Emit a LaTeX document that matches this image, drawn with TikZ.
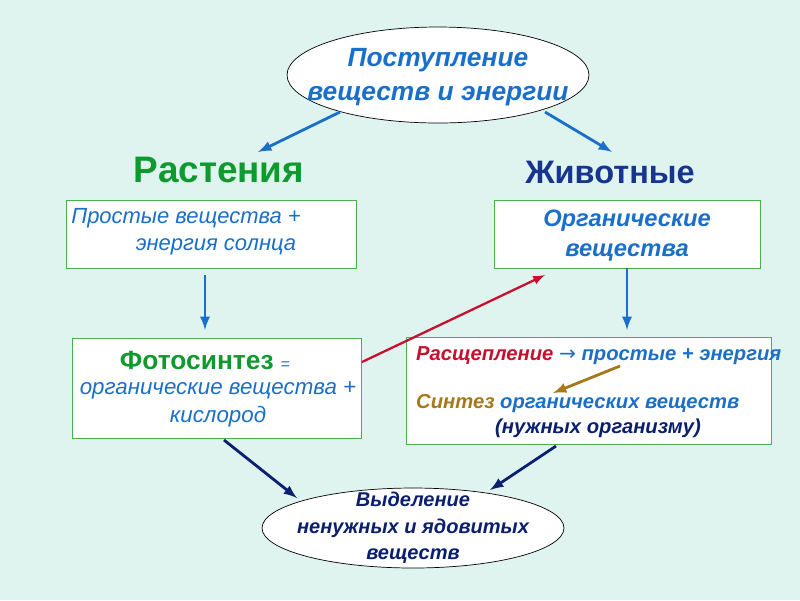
\documentclass[tikz,border=0pt]{standalone}
\usepackage{fontspec}
\setmainfont{Liberation Sans}
\newfontfamily\symfont{DejaVu Sans}
\usetikzlibrary{shapes.geometric}
\definecolor{bgmint}{HTML}{DFF4EE}
\definecolor{txtblue}{HTML}{1A6FC9}
\definecolor{plgreen}{HTML}{0E9A2E}
\definecolor{navy}{HTML}{0A1F6E}
\definecolor{animblue}{HTML}{17358F}
\definecolor{brownish}{HTML}{A6781A}
\definecolor{redish}{HTML}{C8102E}
\definecolor{boxgreen}{HTML}{4CAF50}

\tikzset{
  oval/.style={ellipse,draw=black,fill=white,inner sep=0pt},
  panel/.style={rectangle,draw=boxgreen,fill=white,inner sep=0pt},
  arr/.style={line width=1.6pt,-latex},
  lbl/.style={font=\bfseries\itshape,align=center}
}

\begin{document}
\begin{tikzpicture}[x=0.02cm,y=-0.02cm]
  \fill[bgmint] (0,0) rectangle (800,600);
  \useasboundingbox (0,0) rectangle (800,600);

  \node (In) at (438,75) [oval,minimum width=6.04cm,minimum height=1.92cm] {};
  \node (InT) at (438,77) [lbl,text=txtblue,font=\fontsize{15}{19}\selectfont\bfseries\itshape] {Поступление\\веществ и энергии};

  \node (P) at (219,170) [text=plgreen,font=\fontsize{21}{25}\selectfont\bfseries] {Растения};
  \node (A) at (610,172) [text=animblue,font=\fontsize{18.5}{22}\selectfont\bfseries] {Животные};

  \node (B1) at (211,234) [panel,minimum width=5.8cm,minimum height=1.36cm] {};
  \node (B2) at (627,234) [panel,minimum width=5.32cm,minimum height=1.36cm] {};
  \node (B3) at (217,388) [panel,minimum width=5.78cm,minimum height=2cm] {};
  \node (B4) at (589,391) [panel,minimum width=7.3cm,minimum height=2.14cm] {};
  \node (Out) at (413,528) [oval,minimum width=6.04cm,minimum height=1.6cm] {};

  \node at (186,218) [text=txtblue,font=\fontsize{12.5}{15}\selectfont\itshape] {Простые вещества +};
  \node at (216,247) [text=txtblue,font=\fontsize{12.5}{15}\selectfont\itshape] {энергия солнца};
  \node at (627,236) [lbl,text=txtblue,font=\fontsize{13.5}{17}\selectfont\bfseries\itshape] {Органические\\вещества};

  \node at (205,360) [font=\fontsize{15}{18}\selectfont] {\textcolor{plgreen}{\bfseries Фотосинтез} \textcolor{txtblue}{\small =}};
  \node at (218,390) [text=txtblue,font=\fontsize{12.7}{16}\selectfont\itshape] {органические вещества +};
  \node at (218,417) [text=txtblue,font=\fontsize{12.7}{16}\selectfont\itshape] {кислород};

  \node (R) at (410,356) [anchor=west,font=\fontsize{11.5}{14}\selectfont\bfseries\itshape] {\textcolor{redish}{Расщепление} \textcolor{txtblue}{{\symfont\upshape\mdseries →} простые + энергия}};
  \node (S) at (410,404) [anchor=west,font=\fontsize{11.5}{14}\selectfont\bfseries\itshape] {\textcolor{brownish}{Синтез} \textcolor{txtblue}{органических веществ}};
  \node at (598,428) [text=navy,font=\fontsize{11.5}{14}\selectfont\bfseries\itshape] {(нужных организму)};

  \node at (413,528) [lbl,text=navy,font=\fontsize{11.4}{15}\selectfont\bfseries\itshape] {Выделение\\ненужных и ядовитых\\веществ};

  \coordinate (s1) at (340,112); \coordinate (e1) at (258,152);
  \coordinate (s2) at (545,112); \coordinate (e2) at (612,152);
  \coordinate (d1) at (205,275); \coordinate (f1) at (205,330);
  \coordinate (f2) at (627,330);
  \coordinate (rs) at (362,362); \coordinate (re) at (545,275);
  \coordinate (bs) at (620,366); \coordinate (be) at (553,393);
  \coordinate (ns1) at (224,440); \coordinate (ne1) at (297,498);
  \coordinate (ns2) at (556,446); \coordinate (ne2) at (490,490);

  \draw[arr,txtblue] (s1) -- (e1);
  \draw[arr,txtblue] (s2) -- (e2);
  \draw[arr,txtblue] (d1) -- (f1);
  \draw[arr,txtblue] (B2.south) -- (f2);
  \draw[arr,redish,line width=1.3pt] (rs) -- (re);
  \draw[arr,brownish] (bs) -- (be);
  \draw[arr,navy] (ns1) -- (ne1);
  \draw[arr,navy] (ns2) -- (ne2);
\end{tikzpicture}
\end{document}
